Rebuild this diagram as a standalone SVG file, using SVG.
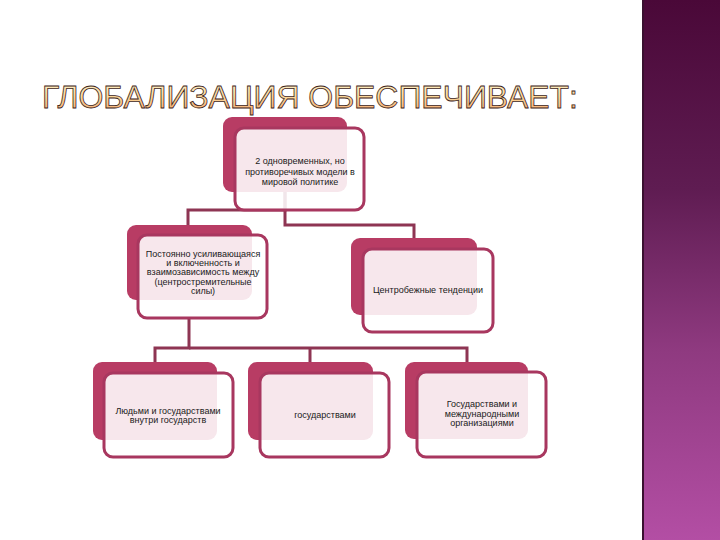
<svg xmlns="http://www.w3.org/2000/svg" width="720" height="540" viewBox="0 0 720 540">
  <defs>
    <linearGradient id="bar" x1="0" y1="0" x2="0" y2="1">
      <stop offset="0" stop-color="#4a0838"/>
      <stop offset="0.35" stop-color="#5f1c52"/>
      <stop offset="0.65" stop-color="#8f3a80"/>
      <stop offset="1" stop-color="#b34ea4"/>
    </linearGradient>
    <linearGradient id="title" x1="0" y1="0" x2="0" y2="1">
      <stop offset="0" stop-color="#fff6d0"/>
      <stop offset="0.5" stop-color="#fbd79a"/>
      <stop offset="1" stop-color="#f2a06a"/>
    </linearGradient>
  </defs>
  <style>
    .back { fill: #b83c64; }
    .front { fill: #ffffff; fill-opacity: 0.88; stroke: #a8375f; stroke-width: 3; }
    .conn { fill: none; stroke: #8e3553; stroke-width: 3; }
    .lbl { font-family: "Liberation Sans", Arial, sans-serif; font-size: 9px; fill: #1a1a1a; text-anchor: middle; }
    .ttl { font-family: "Liberation Sans", Arial, sans-serif; font-size: 32px; fill: url(#title); stroke: #3c2420; stroke-width: 0.8; }
  </style>
  <rect width="720" height="540" fill="#ffffff"/>
  <rect x="643" y="0" width="77" height="540" fill="url(#bar)"/>
  <rect x="642" y="0" width="2" height="540" fill="#3a1030"/>

  <text class="ttl" x="42" y="108" textLength="536" lengthAdjust="spacing">ГЛОБАЛИЗАЦИЯ ОБЕСПЕЧИВАЕТ:</text>

  <g id="connectors">
    <path class="conn" d="M285,192 V210 H188 V226"/>
    <path class="conn" d="M285,192 V225 H414 V239"/>
    <path class="conn" d="M189,318 V348 H155 V363"/>
    <path class="conn" d="M189,348 H467 V363"/>
    <path class="conn" d="M310,348 V363"/>
  </g>

  <g id="node-top">
    <rect class="back" x="223" y="117" width="124" height="75" rx="9"/>
    <rect class="front" x="235" y="128" width="129" height="82" rx="9"/>
    <text class="lbl" x="300" y="164">2 одновременных, но</text>
    <text class="lbl" x="300" y="174.5">противоречивых модели в</text>
    <text class="lbl" x="300" y="184.5">мировой политике</text>
  </g>

  <g id="node-left">
    <rect class="back" x="127" y="225" width="125" height="75" rx="9"/>
    <rect class="front" x="138" y="235" width="129" height="83" rx="9"/>
    <text class="lbl" x="203" y="256.5">Постоянно усиливающаяся</text>
    <text class="lbl" x="203" y="265.5">и включенность и</text>
    <text class="lbl" x="203" y="275">взаимозависимость между</text>
    <text class="lbl" x="203" y="284.5">(центростремительные</text>
    <text class="lbl" x="203" y="293.5">силы)</text>
  </g>

  <g id="node-right">
    <rect class="back" x="351" y="238" width="126" height="77" rx="9"/>
    <rect class="front" x="363" y="249" width="130" height="83" rx="9"/>
    <text class="lbl" x="428" y="293">Центробежные тенденции</text>
  </g>

  <g id="node-bl">
    <rect class="back" x="93" y="362" width="124" height="78" rx="9"/>
    <rect class="front" x="104" y="373" width="129" height="84" rx="9"/>
    <text class="lbl" x="168" y="414">Людьми и государствами</text>
    <text class="lbl" x="168" y="423">внутри государств</text>
  </g>

  <g id="node-bm">
    <rect class="back" x="248" y="362" width="125" height="78" rx="9"/>
    <rect class="front" x="260" y="373" width="129" height="84" rx="9"/>
    <text class="lbl" x="325" y="418">государствами</text>
  </g>

  <g id="node-br">
    <rect class="back" x="405" y="362" width="123" height="77" rx="9"/>
    <rect class="front" x="417" y="372" width="129" height="85" rx="9"/>
    <text class="lbl" x="482" y="407">Государствами и</text>
    <text class="lbl" x="482" y="416.5">международными</text>
    <text class="lbl" x="482" y="426">организациями</text>
  </g>
</svg>
